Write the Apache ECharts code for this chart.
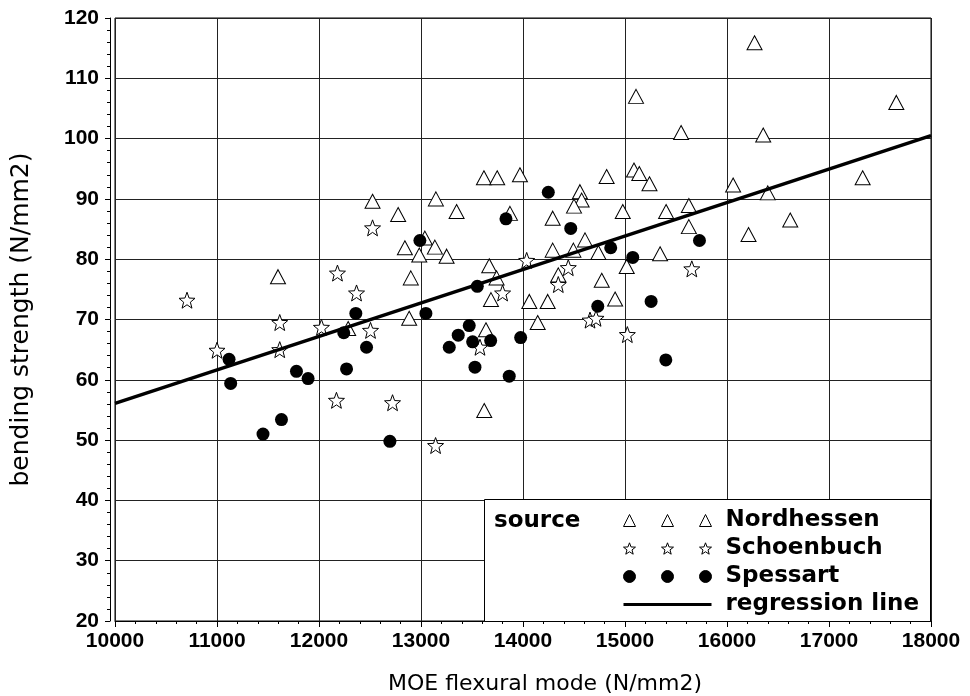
<!DOCTYPE html>
<html>
<head>
<meta charset="utf-8">
<script src="https://cdn.jsdelivr.net/npm/echarts@6/dist/echarts.min.js"></script>
<style>
  html, body { margin: 0; padding: 0; background: #fff; }
  #main { width: 970px; height: 696px; }
</style>
</head>
<body>
<div id="main"></div>
<script>
// MOE (N/mm2) / bending strength (N/mm2) pairs per source
var nordhessen = [
    [16270, 115.9], [17660, 106.0], [15108, 107.0], [15550, 101.0], [16355, 100.6],
    [15088, 94.8], [15140, 94.2], [15240, 92.5], [16060, 92.3], [17330, 93.5],
    [16400, 91.0], [14820, 93.7], [13970, 94.0], [13617, 93.5], [13747, 93.5],
    [14558, 91.2], [14575, 89.8], [14500, 88.8], [13872, 87.6], [14291, 86.8],
    [14978, 87.9], [15403, 87.9], [15626, 88.9], [15626, 85.4], [16211, 84.1],
    [16620, 86.5], [14608, 83.2], [14494, 81.5], [14739, 81.1], [14291, 81.5],
    [15344, 80.9], [15017, 78.8], [14772, 76.5], [14346, 77.4], [14062, 73.0],
    [14242, 73.0], [14903, 73.4], [14144, 69.5], [13686, 73.3], [12884, 70.2],
    [13637, 68.3], [13620, 54.9], [12525, 89.6], [12776, 87.4], [13146, 90.0],
    [13349, 87.9], [13038, 83.5], [12842, 81.9], [12983, 80.7], [13136, 82.0],
    [13251, 80.5], [13669, 78.9], [13741, 76.9], [12900, 76.9], [11598, 77.1],
    [12286, 68.5]
];
var schoenbuch = [
    [10706, 73.2], [11000, 64.9], [11615, 69.5], [11615, 65.0], [12024, 68.7],
    [12181, 77.7], [12368, 74.4], [12505, 68.2], [12525, 85.2], [12171, 56.6],
    [12721, 56.2], [13143, 49.1], [13578, 65.4], [13800, 74.4], [14036, 79.8],
    [14346, 75.8], [14444, 78.6], [14657, 69.9], [14716, 70.2], [15023, 67.5],
    [15655, 78.4]
];
var spessart = [
    [11118, 63.4], [11134, 59.4], [11451, 51.0], [11632, 53.4], [11779, 61.4],
    [11893, 60.2], [12243, 67.8], [12270, 61.8], [12361, 71.0], [12466, 65.4],
    [12695, 49.8], [12989, 83.1], [13048, 71.0], [13277, 65.4], [13365, 67.4],
    [13473, 69.0], [13506, 66.3], [13529, 62.1], [13552, 75.5], [13683, 66.5],
    [13833, 86.7], [13865, 60.6], [13977, 67.0], [14248, 91.1], [14468, 85.1],
    [14733, 72.2], [14860, 81.9], [15076, 80.3], [15256, 73.0], [15400, 63.3],
    [15730, 83.1]
];
var regression = [[10000, 56.1], [18000, 100.5]];

// star outline centred on (cx, cy)
function starPath(cx, cy, r) {
    var pts = [];
    for (var i = 0; i < 10; i++) {
        var rad = (i % 2 === 0) ? r : r * 0.42;
        var a = (-90 + i * 36) * Math.PI / 180;
        pts.push((cx + rad * Math.cos(a)).toFixed(2) + ',' + (cy + rad * Math.sin(a)).toFixed(2));
    }
    return 'M' + pts.join('L') + 'Z';
}
var starSymbol = 'path://' + starPath(50, 50, 50);

// legend icons: three symbols in a row like the SAS legend
var triIcon = 'path://M0,12L6,0L12,12Z M38,12L44,0L50,12Z M76,12L82,0L88,12Z';
var starIcon = 'path://' + starPath(6, 6.6, 6.3) + ' ' + starPath(44, 6.6, 6.3) + ' ' + starPath(82, 6.6, 6.3);
var dotIcon = 'path://M0,6A6,6 0 1,0 12,6A6,6 0 1,0 0,6Z M38,6A6,6 0 1,0 50,6A6,6 0 1,0 38,6Z M76,6A6,6 0 1,0 88,6A6,6 0 1,0 76,6Z';
var lineIcon = 'path://M0,4.5L88,4.5L88,7.5L0,7.5Z';

var myChart = echarts.init(document.getElementById('main'));

var tickFont = { fontFamily: 'Liberation Sans', fontWeight: 'bold', fontSize: 21, color: '#000' };

var option = {
    backgroundColor: '#fff',
    animation: false,
    title: {
        text: 'source',
        left: 494,
        top: 510,
        textStyle: { fontFamily: 'DejaVu Sans', fontWeight: 'bold', fontSize: 23, color: '#000' },
        padding: 0
    },
    legend: {
        orient: 'vertical',
        left: 623,
        top: 509,
        itemWidth: 88,
        itemHeight: 12,
        itemGap: 5,
        selectedMode: false,
        padding: 0,
        itemStyle: { borderWidth: 1 },
        data: [
            { name: 'Nordhessen', icon: triIcon },
            { name: 'Schoenbuch', icon: starIcon },
            { name: 'Spessart', icon: dotIcon },
            { name: 'regression line', icon: lineIcon }
        ],
        textStyle: {
            fontFamily: 'DejaVu Sans', fontWeight: 'bold', fontSize: 23, color: '#000',
            lineHeight: 23, padding: [0, 0, 0, 9]
        }
    },
    graphic: [{
        type: 'rect',
        shape: { x: 484.5, y: 499.5, width: 446, height: 122 },
        style: { fill: '#fff', stroke: '#000', lineWidth: 1 },
        z: 3
    }],
    grid: {
        left: 115,
        right: 39,
        top: 18,
        bottom: 75,
        outerBoundsMode: 'none',
        show: true,
        borderColor: '#000',
        borderWidth: 1
    },
    xAxis: {
        type: 'value',
        min: 10000,
        max: 18000,
        interval: 1000,
        name: 'MOE flexural mode (N/mm2)',
        nameLocation: 'middle',
        nameGap: 52,
        nameTextStyle: { fontFamily: 'DejaVu Sans', fontSize: 22, color: '#000', padding: [0, 0, 0, 44] },
        axisLine: { show: true, lineStyle: { color: '#000', width: 1 } },
        axisTick: { show: true, inside: false, length: 6, lineStyle: { color: '#000' } },
        minorTick: { show: true, splitNumber: 5, length: 3, lineStyle: { color: '#000' } },
        axisLabel: Object.assign({
            margin: 10,
            formatter: function (v) { return String(v); }
        }, tickFont),
        splitLine: { show: true, lineStyle: { color: '#222', width: 1 } }
    },
    yAxis: {
        type: 'value',
        min: 20,
        max: 120,
        interval: 10,
        offset: 5,
        name: 'bending strength (N/mm2)',
        nameLocation: 'middle',
        nameGap: 76,
        nameTextStyle: { fontFamily: 'DejaVu Sans', fontSize: 25, color: '#000' },
        axisLine: { show: true, lineStyle: { color: '#000', width: 1 } },
        axisTick: { show: true, inside: false, length: 5, lineStyle: { color: '#000' } },
        minorTick: { show: true, splitNumber: 5, length: 3, lineStyle: { color: '#000' } },
        axisLabel: Object.assign({ margin: 11 }, tickFont),
        splitLine: { show: true, lineStyle: { color: '#222', width: 1 } }
    },
    series: [
        {
            name: 'Nordhessen',
            type: 'scatter',
            data: nordhessen,
            symbol: 'triangle',
            symbolSize: [15, 14],
            itemStyle: { color: '#fff', borderColor: '#000', borderWidth: 1, opacity: 1 }
        },
        {
            name: 'Schoenbuch',
            type: 'scatter',
            data: schoenbuch,
            symbol: starSymbol,
            symbolSize: 16,
            itemStyle: { color: '#fff', borderColor: '#000', borderWidth: 1, opacity: 1 }
        },
        {
            name: 'Spessart',
            type: 'scatter',
            data: spessart,
            symbol: 'circle',
            symbolSize: 13,
            itemStyle: { color: '#000', borderColor: '#000', borderWidth: 0, opacity: 1 }
        },
        {
            name: 'regression line',
            type: 'line',
            data: regression,
            symbol: 'none',
            color: '#000',
            itemStyle: { color: '#000' },
            lineStyle: { color: '#000', width: 3.5 },
            z: 4
        }
    ]
};

myChart.setOption(option);
</script>
</body>
</html>
